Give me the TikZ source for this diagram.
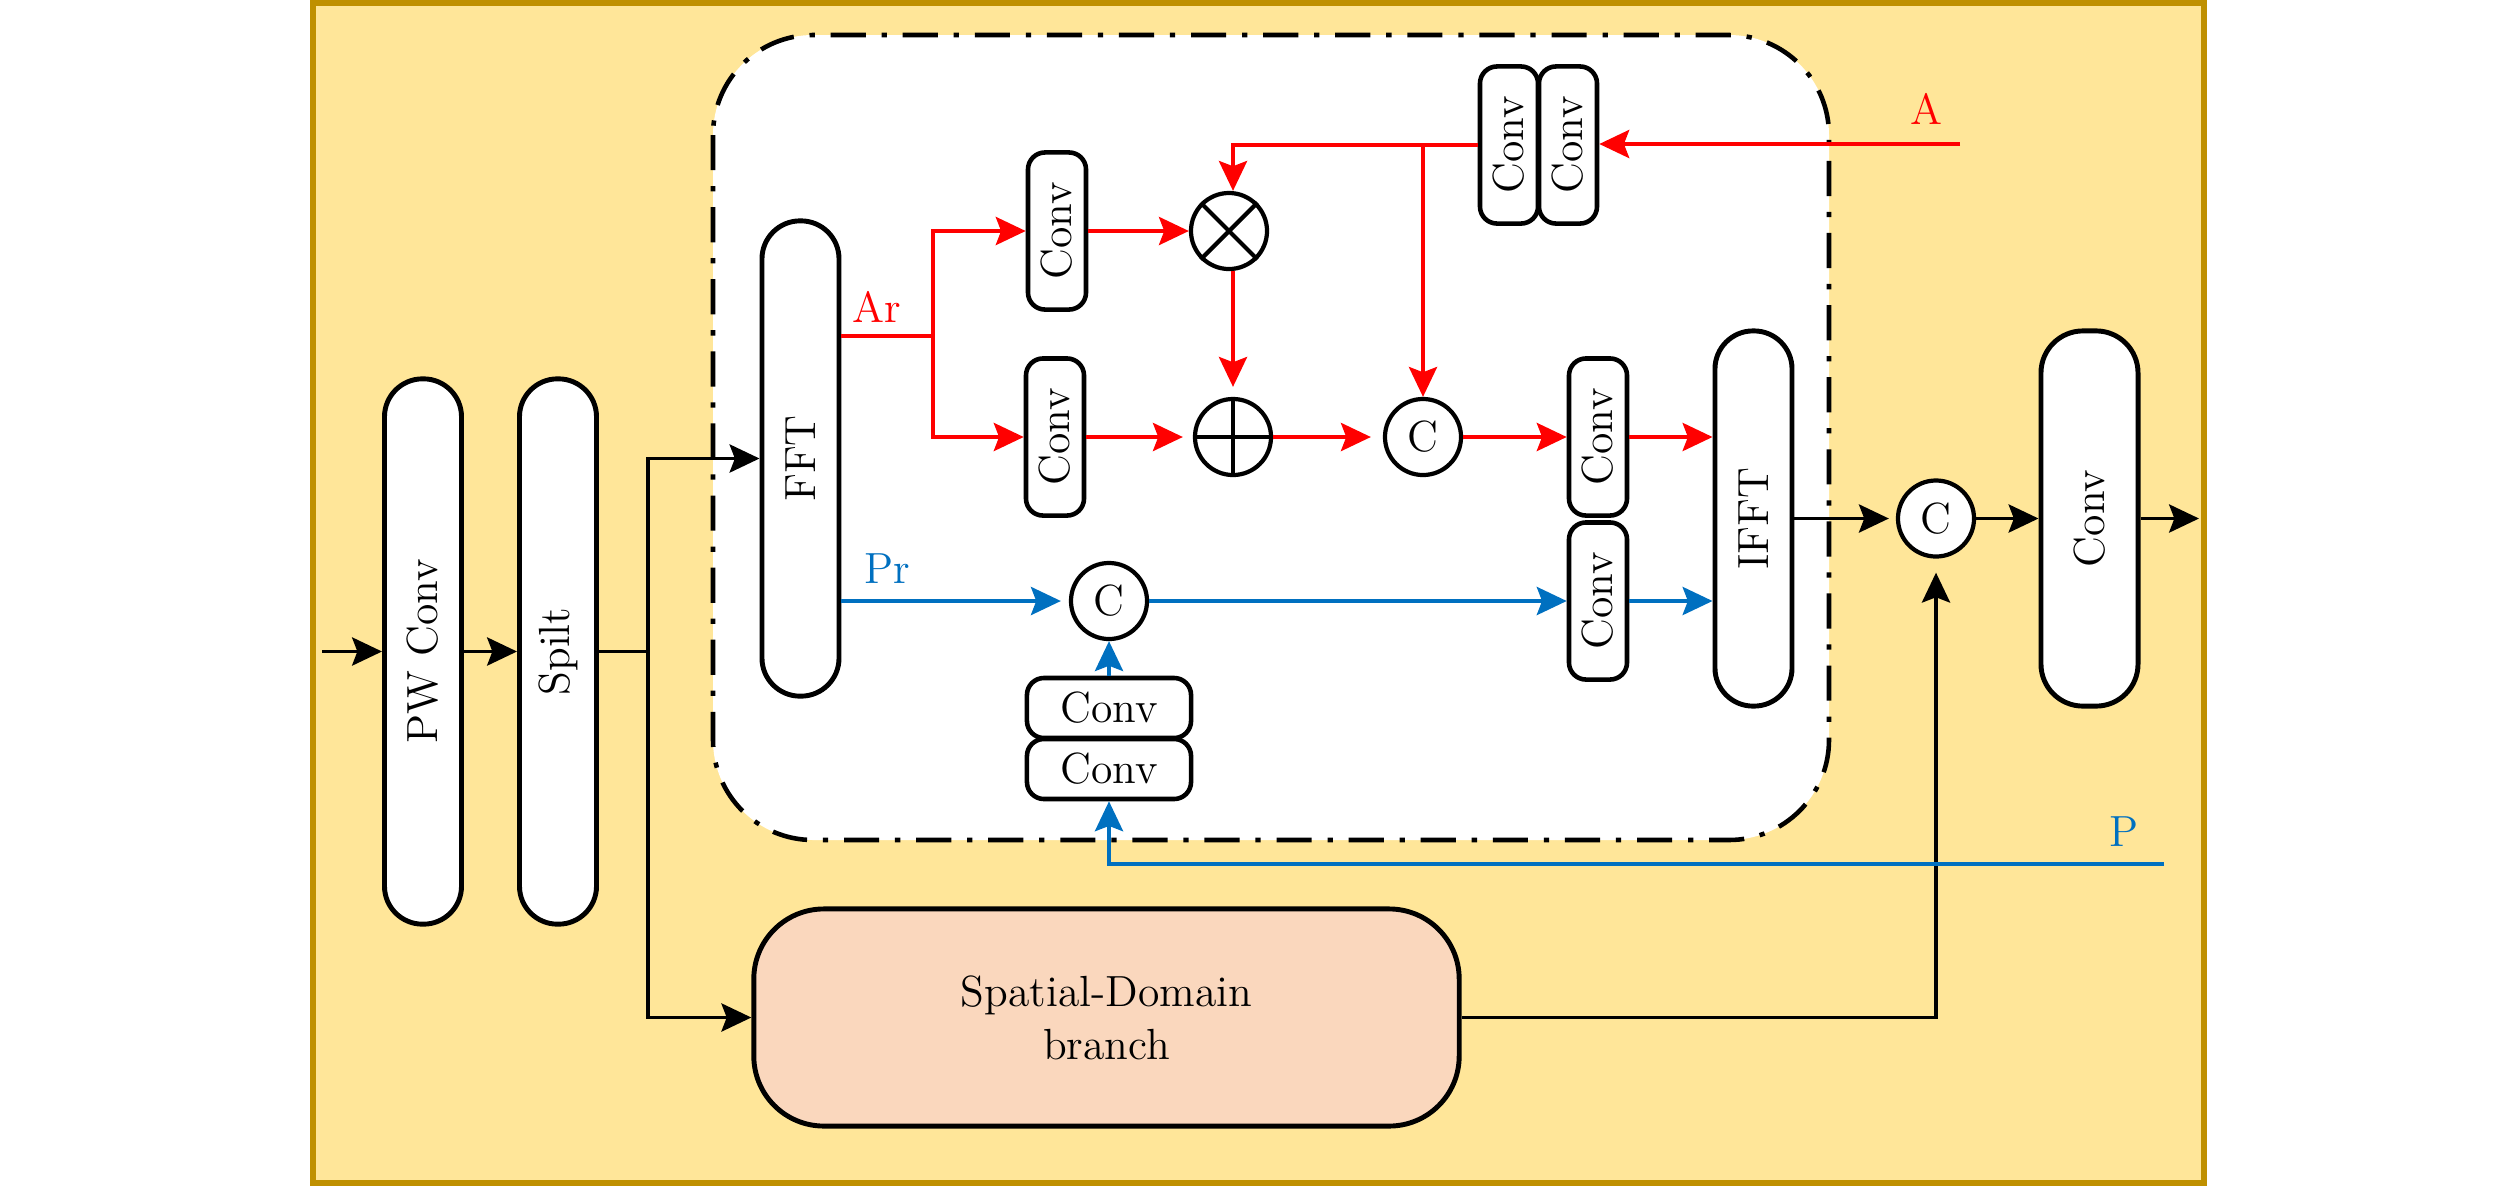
\documentclass[tikz,border=0pt]{standalone}
\usepackage{graphicx}
\usetikzlibrary{arrows.meta,calc}
\definecolor{gold}{HTML}{BF9000}
\definecolor{ylw}{HTML}{FFE699}
\definecolor{peach}{HTML}{FAD7BD}
\definecolor{myblue}{HTML}{0070C0}
\definecolor{myred}{HTML}{FF0000}
\begin{document}
\begin{tikzpicture}[x=0.01cm,y=-0.01cm, font=\fontsize{12.4}{15}\selectfont,
 pill/.style={draw, line width=1.4pt, fill=white, inner sep=0pt, rounded corners=0.38cm, minimum width=0.77cm},
 cbox/.style={draw, line width=1.3pt, fill=white, rounded corners=0.17cm, inner sep=0pt},
 vbox/.style={cbox, minimum width=0.58cm, minimum height=1.57cm},
 hbox/.style={cbox, minimum width=1.64cm, minimum height=0.6cm},
 circ/.style={circle, draw, line width=1.2pt, fill=white, minimum size=0.76cm, inner sep=0pt},
 arr/.style={line width=1.05pt, -{Stealth[length=8.5pt,width=8pt,inset=1.5pt]}},
 ln/.style={line width=1.05pt},
 gap/.style={shorten >=#1},
 ]
\fill[white] (0,0) rectangle (2520,1187);
\useasboundingbox (0,0) rectangle (2520,1187);
\draw[gold, fill=ylw, line width=1.5pt] (313,3) rectangle (2204,1183);
% frequency branch frame
\draw[line width=1.3pt, fill=white, rounded corners=1cm, dash pattern=on 10pt off 4.5pt on 1.5pt off 4.5pt] (713,35) rectangle (1829,840);

% main blocks
\node[pill, minimum height=5.45cm] (pw) at (423,651.5) {\rotatebox{90}{PW Conv}};
\node[pill, minimum height=5.45cm] (sp) at (558,651.5) {\rotatebox{90}{Spilt}};
\node[pill, minimum height=4.75cm] (fft) at (800.5,458.5) {\rotatebox{90}{FFT}};
\node[pill, minimum height=3.75cm] (ifft) at (1753.5,518.5) {\rotatebox{90}{IFFT}};
\node[pill, rounded corners=0.42cm, minimum width=0.97cm, minimum height=3.75cm] (cv) at (2089.5,518.5) {\rotatebox{90}{Conv}};
\node[draw, line width=1.4pt, fill=peach, rounded corners=0.7cm, minimum width=7.05cm, minimum height=2.17cm, align=center, inner sep=0pt] (spat) at (1106.5,1017.5) {Spatial-Domain\\branch};

% small conv boxes
\node[vbox] (c1) at (1057,231) {\rotatebox{90}{Conv}};
\node[vbox] (c2) at (1055,437) {\rotatebox{90}{Conv}};
\node[vbox] (c3) at (1598,437) {\rotatebox{90}{Conv}};
\node[vbox] (c4) at (1598,601) {\rotatebox{90}{Conv}};
\node[vbox] (ca1) at (1509,145) {\rotatebox{90}{Conv}};
\node[vbox] (ca2) at (1568,145) {\rotatebox{90}{Conv}};
\node[hbox] (cb1) at (1109,708) {Conv};
\node[hbox] (cb2) at (1109,769) {Conv};

% operators
\node[circ] (ot) at (1229,231) {};
\draw[line width=1.2pt] (ot.north west) -- (ot.south east) (ot.north east) -- (ot.south west);
\node[circ] (op) at (1233,437) {};
\draw[line width=1.2pt] (op.north) -- (op.south) (op.west) -- (op.east);
\node[circ] (cr) at (1423,437) {C};
\node[circ] (cbl) at (1109,601) {C};
\node[circ] (co) at (1936,518.5) {C};

% black paths
\coordinate (in) at (322,651.5);
\coordinate (j) at (648,651.5);
\coordinate (out) at (2199,518.5);
\draw[arr] (in) -- (pw);
\draw[arr] (pw) -- (sp);
\draw[ln] (sp.east |- j) -- (j);
\draw[arr] (j) |- (fft.west);
\draw[arr] (j) |- (spat.west);
\draw[arr, gap=0.07cm] (ifft.east |- co) -- (co.west);
\draw[arr] (co) -- (cv.west |- co);
\draw[arr] (cv.east |- co) -- (out);
\draw[arr, gap=0.14cm] (spat.east) -| (co.south);

% red paths
\coordinate (ar) at (933,336);
\coordinate (aend) at (1960,144);
\begin{scope}[myred]
\draw[ln] (fft.east |- ar) -- (ar);
\draw[arr] (ar) |- (c1.west);
\draw[arr] (ar) |- (c2.west);
\draw[arr] (c1) -- (ot);
\draw[arr, gap=0.1cm] (c2) -- (op);
\draw[arr, gap=0.1cm] (ot.south -| op) -- (op.north);
\draw[arr, gap=0.12cm] (op) -- (cr);
\draw[arr] (cr) -- (c3);
\draw[arr] (c3.east) -- (c3.east -| ifft.west);
\draw[arr] (aend) -- (ca2.east |- aend);
\draw[arr] (ca1.west) -| (op.north |- ot.north);
\draw[arr] (ca1.west -| cr) -- (cr.north);
\node (al) at (877,307) {Ar};
\node (aa) at (1926,109) {A};
\end{scope}

% blue paths
\coordinate (pend) at (2164,864);
\begin{scope}[myblue]
\draw[arr, gap=0.08cm] (fft.east |- cbl) -- (cbl.west);
\draw[arr] (cbl) -- (c4.west |- cbl);
\draw[arr] (c4.east |- cbl) -- (ifft.west |- cbl);
\draw[arr] (cb1.north) -- (cbl.south);
\draw[arr] (pend) -| (cb2.south);
\node (pl) at (887,569) {Pr};
\node (pp) at (2124,832) {P};
\end{scope}
\end{tikzpicture}
\end{document}
